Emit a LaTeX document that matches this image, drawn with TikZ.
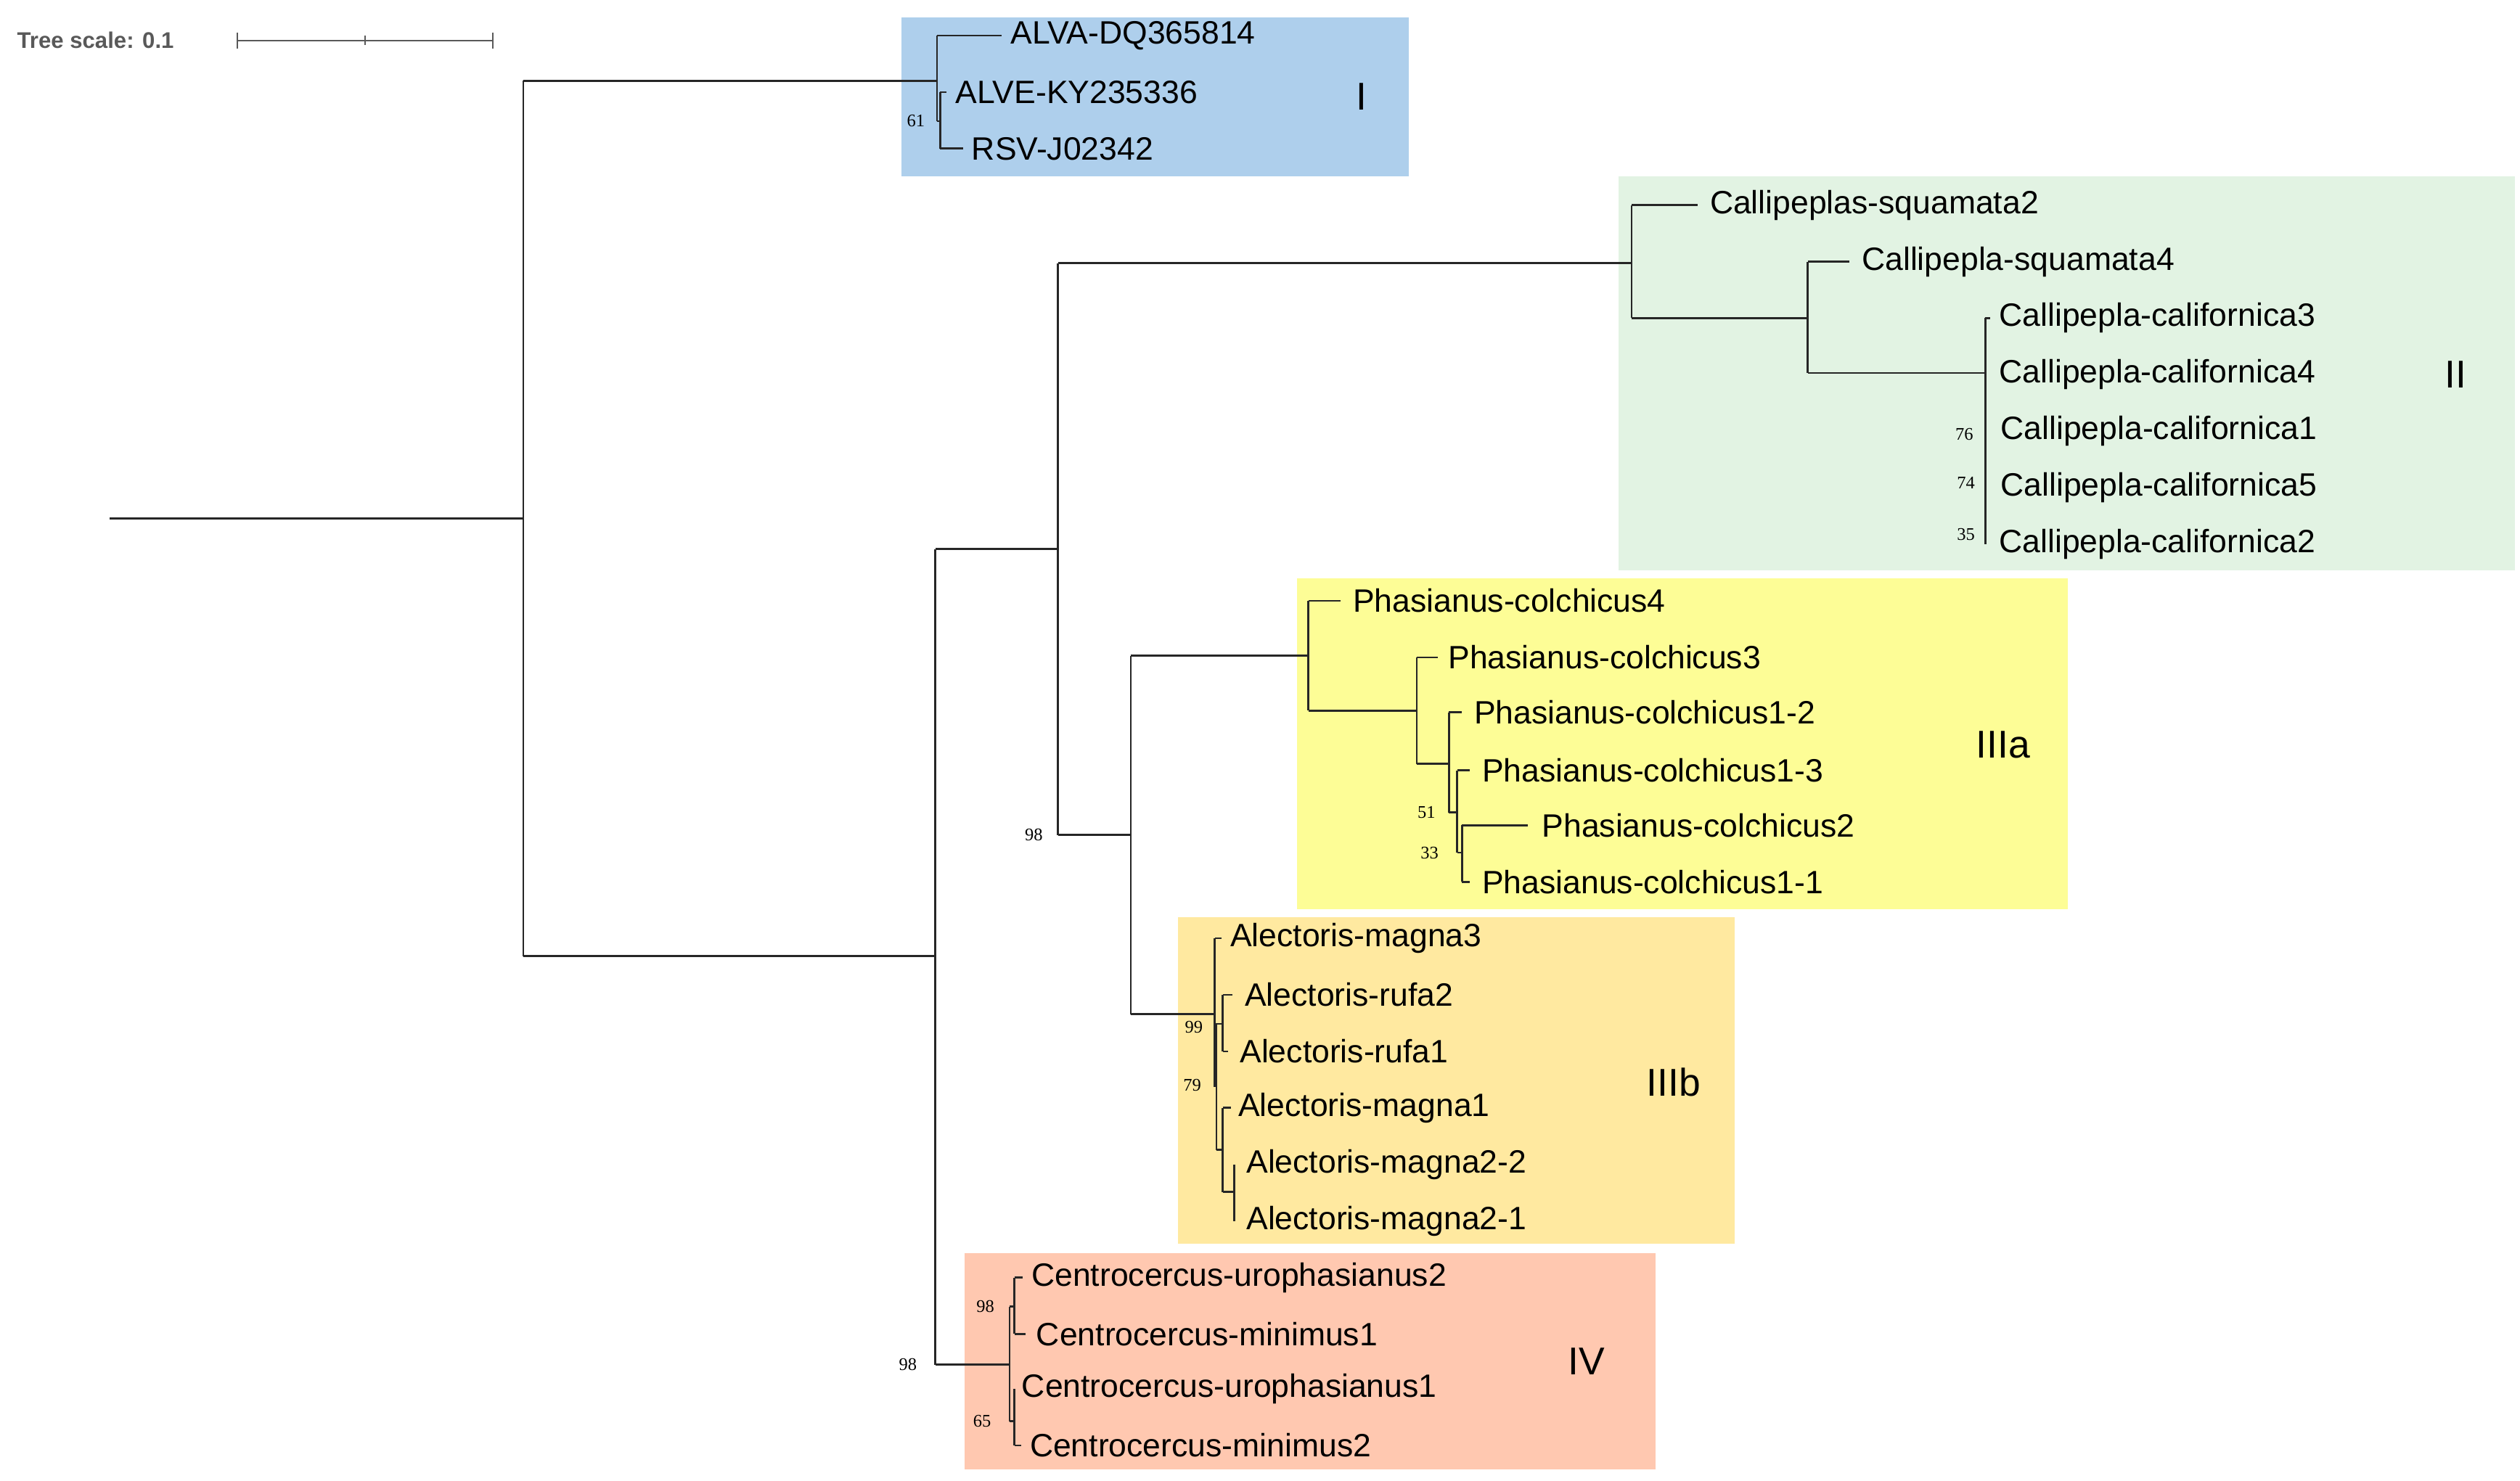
\documentclass[tikz,border=0pt]{standalone}
\usepackage{fontspec}
\setmainfont{Liberation Sans}
\newfontfamily\supf{Liberation Serif}
\begin{document}
\begin{tikzpicture}[x=1pt,y=-1pt,line width=1.2pt,
 leaf/.style={anchor=west,inner sep=0pt,font=\fontsize{20}{24}\selectfont},
 clade/.style={anchor=center,inner sep=0pt,font=\fontsize{24}{28}\selectfont},
 sup/.style={anchor=center,inner sep=0pt,font=\supf\fontsize{11}{13}\selectfont},
 br/.style={draw=black!85}]
\useasboundingbox (0,0) rectangle (1560,916.6);
% boxes
\fill[fill={rgb,255:red,174;green,207;blue,236}] (558,11) rectangle (872,109);
\fill[fill={rgb,255:red,226;green,243;blue,227}] (1002,109) rectangle (1557,353);
\fill[fill={rgb,255:red,253;green,253;blue,150}] (803,358) rectangle (1280,563);
\fill[fill={rgb,255:red,255;green,233;blue,160}] (729,568) rectangle (1074,770);
\fill[fill={rgb,255:red,255;green,200;blue,176}] (597,776) rectangle (1025,910);
% scale
\node[anchor=west,inner sep=0pt,font=\bfseries\fontsize{14}{16}\selectfont,text=black!65] (ts) at (10,25) {Tree scale: 0.1};
\draw[black!65,line width=1pt] (147,25) -- (305,25) (147,20)--(147,30) (226,22)--(226,28) (305,20)--(305,30);
% leaves
\node[leaf] (a1) at (625,22) {ALVA-DQ365814};
\node[leaf] (a2) at (591,57) {ALVE-KY235336};
\node[leaf] (a3) at (601,92) {RSV-J02342};
\node[leaf] (c1) at (1058,127) {Callipeplas-squamata2};
\node[leaf] (c2) at (1152,162) {Callipepla-squamata4};
\node[leaf] (c3) at (1237,197) {Callipepla-californica3};
\node[leaf] (c4) at (1237,232) {Callipepla-californica4};
\node[leaf] (c5) at (1238,267) {Callipepla-californica1};
\node[leaf] (c6) at (1238,302) {Callipepla-californica5};
\node[leaf] (c7) at (1237,337) {Callipepla-californica2};
\node[leaf] (p1) at (837,372) {Phasianus-colchicus4};
\node[leaf] (p2) at (896,407) {Phasianus-colchicus3};
\node[leaf] (p3) at (912,441) {Phasianus-colchicus1-2};
\node[leaf] (p4) at (917,477) {Phasianus-colchicus1-3};
\node[leaf] (p5) at (954,511) {Phasianus-colchicus2};
\node[leaf] (p6) at (917,546) {Phasianus-colchicus1-1};
\node[leaf] (m1) at (761,581) {Alectoris-magna3};
\node[leaf] (m2) at (770,616) {Alectoris-rufa2};
\node[leaf] (m3) at (767,651) {Alectoris-rufa1};
\node[leaf] (m4) at (766,686) {Alectoris-magna1};
\node[leaf] (m5) at (771,721) {Alectoris-magna2-2};
\node[leaf] (m6) at (771,756) {Alectoris-magna2-1};
\node[leaf] (u1) at (638,791) {Centrocercus-urophasianus2};
\node[leaf] (u2) at (641,826) {Centrocercus-minimus1};
\node[leaf] (u3) at (632,860) {Centrocercus-urophasianus1};
\node[leaf] (u4) at (637,895) {Centrocercus-minimus2};
% clade labels
\node[clade] (LI) at (843,60) {I};
\node[clade] (LII) at (1520,232) {II};
\node[clade] (LIIIa) at (1240,461) {IIIa};
\node[clade] (LIIIb) at (1036,670) {IIIb};
\node[clade] (LIV) at (982,843) {IV};
% supports
\node[sup] at (567,75) {61};
\node[sup] at (1216,269) {76};
\node[sup] at (1217,299) {74};
\node[sup] at (1217,331) {35};
\node[sup] at (640,517) {98};
\node[sup] at (883,503) {51};
\node[sup] at (885,528) {33};
\node[sup] at (739,636) {99};
\node[sup] at (738,672) {79};
\node[sup] at (562,845) {98};
\node[sup] at (610,809) {98};
\node[sup] at (608,880) {65};
% tree
\draw[br] (68,321) -- (324,321) (324,50) -- (324,592);
\draw[br] (324,50) -- (580,50) (580,22) -- (580,75) (580,22) -- (620,22);
\draw[br] (580,75) -- (582,75) (582,57) -- (582,92) (582,57) -- (586,57) (582,92) -- (596,92);
\draw[br] (324,592) -- (579,592) (579,340) -- (579,845) (579,340) -- (655,340) (655,163) -- (655,517);
\draw[br] (655,163) -- (1010,163) (1010,127) -- (1010,197) (1010,127) -- (1051,127) (1010,197) -- (1119,197);
\draw[br] (1119,162) -- (1119,231) (1119,162) -- (1145,162) (1119,231) -- (1229,231) (1229,197) -- (1229,337);
\draw[br] (1229,197) -- (1232,197);
% Phasianus
\draw[br] (655,517) -- (700,517) (700,406) -- (700,628) (700,406) -- (810,406);
\draw[br] (810,372) -- (810,440) (810,372) -- (830,372) (810,440) -- (877,440);
\draw[br] (877,407) -- (877,473) (877,407) -- (890,407) (877,473) -- (897,473);
\draw[br] (897,441) -- (897,503) (897,441) -- (905,441) (897,503) -- (902,503);
\draw[br] (902,477) -- (902,528) (902,477) -- (910,477) (902,528) -- (905,528);
\draw[br] (905,511) -- (905,546) (905,511) -- (946,511) (905,546) -- (910,546);
% Alectoris
\draw[br] (700,628) -- (752,628) (752,581) -- (752,673) (752,581) -- (756,581);
\draw[br] (752,634) -- (757,634) (757,616) -- (757,651) (757,616) -- (763,616) (757,651) -- (760,651);
\draw[br] (753,634) -- (753,712) (753,712) -- (757,712) (757,686) -- (757,738) (757,686) -- (762,686);
\draw[br] (757,738) -- (764,738) (764,721) -- (764,756);
% Centrocercus
\draw[br] (579,845) -- (625,845) (625,809) -- (625,880) (625,809) -- (628,809) (625,880) -- (628,880);
\draw[br] (628,791) -- (628,826) (628,791) -- (633,791) (628,826) -- (635,826);
\draw[br] (628,860) -- (628,895) (628,895) -- (632,895);
\end{tikzpicture}
\end{document}
